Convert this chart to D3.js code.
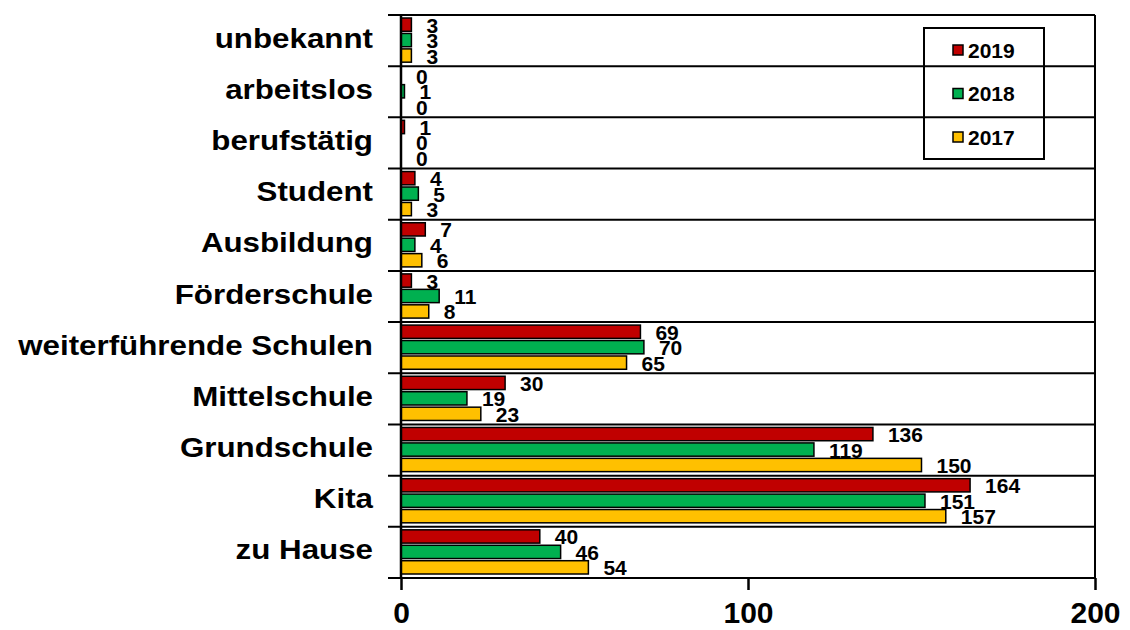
<!DOCTYPE html>
<html>
<head>
<meta charset="utf-8">
<script src="https://cdn.jsdelivr.net/npm/d3@7"></script>
<style>
  body { margin: 0; background: #fff; }
  svg text { font-family: "Liberation Sans", Arial, sans-serif; font-weight: bold; fill: #000; }
</style>
</head>
<body>
<script>
// categories top to bottom
var categories = ["unbekannt", "arbeitslos", "berufstätig", "Student", "Ausbildung", "Förderschule",
  "weiterführende Schulen", "Mittelschule", "Grundschule", "Kita", "zu Hause"];
var years = ["2019", "2018", "2017"];
var values2019 = [3, 0, 1, 4, 7, 3, 69, 30, 136, 164, 40];
var values2018 = [3, 1, 0, 5, 4, 11, 70, 19, 119, 151, 46];
var values2017 = [3, 0, 0, 3, 6, 8, 65, 23, 150, 157, 54];
var xTicks = [0, 100, 200];

var colors = { "2019": "#C00000", "2018": "#00B050", "2017": "#FFC000" };
var seriesValues = { "2019": values2019, "2018": values2018, "2017": values2017 };

var width = 1130, height = 630;
var plotLeft = 401, plotRight = 1095, plotTop = 15, plotBottom = 578;

var svg = d3.select("body").append("svg")
  .attr("width", width)
  .attr("height", height);

var x = d3.scaleLinear().domain([0, 200]).range([plotLeft, plotRight]);
var y = d3.scaleBand().domain(categories).range([plotTop, plotBottom]);
var bw = y.bandwidth();
var sub = d3.scaleBand().domain(years).range([3, bw - 4]).paddingInner(0.14);

// category separator lines (stick out a bit left of the axis)
var seps = categories.map(c => y(c)).concat([plotBottom]);
svg.append("g").selectAll("line")
  .data(seps)
  .enter().append("line")
  .attr("x1", plotLeft - 13).attr("x2", plotRight)
  .attr("y1", d => d).attr("y2", d => d)
  .attr("stroke", "#000").attr("stroke-width", 2);

// right border
svg.append("line")
  .attr("x1", plotRight).attr("x2", plotRight)
  .attr("y1", plotTop).attr("y2", plotBottom)
  .attr("stroke", "#000").attr("stroke-width", 2);

// bars
var rows = [];
categories.forEach((c, i) => {
  years.forEach(yr => rows.push({ cat: c, year: yr, value: seriesValues[yr][i] }));
});

svg.append("g").selectAll("rect")
  .data(rows.filter(d => d.value > 0))
  .enter().append("rect")
  .attr("x", x(0))
  .attr("y", d => y(d.cat) + sub(d.year))
  .attr("width", d => x(d.value) - x(0))
  .attr("height", sub.bandwidth())
  .attr("fill", d => colors[d.year])
  .attr("stroke", "#000")
  .attr("stroke-width", 1.5);

// value labels
svg.append("g").selectAll("text")
  .data(rows)
  .enter().append("text")
  .attr("x", d => x(d.value) + 15)
  .attr("y", d => y(d.cat) + sub(d.year) + sub.bandwidth() / 2 + 8)
  .attr("font-size", 21)
  .text(d => d.value);

// category labels (source font is a bit wider than Liberation Sans)
svg.append("g").selectAll("text")
  .data(categories)
  .enter().append("text")
  .attr("transform", d => "translate(373," + (y(d) + bw / 2 + 7) + ") scale(1.16,1)")
  .attr("text-anchor", "end")
  .attr("font-size", 27)
  .text(d => d);

// left axis line
svg.append("line")
  .attr("x1", plotLeft).attr("x2", plotLeft)
  .attr("y1", plotTop).attr("y2", plotBottom)
  .attr("stroke", "#000").attr("stroke-width", 2.5);

// bottom axis
var xAxis = svg.append("g")
  .attr("transform", "translate(0," + plotBottom + ")")
  .call(d3.axisBottom(x).tickValues(xTicks).tickSize(12).tickSizeOuter(0).tickPadding(12));
xAxis.select(".domain").remove();
xAxis.selectAll("line").attr("stroke", "#000").attr("stroke-width", 2.5);
xAxis.selectAll("text")
  .attr("font-size", 30)
  .attr("font-family", "Liberation Sans, Arial, sans-serif")
  .attr("font-weight", "bold");

// legend
var legend = svg.append("g").attr("transform", "translate(924,28)");
legend.append("rect")
  .attr("width", 120).attr("height", 131)
  .attr("fill", "none").attr("stroke", "#000").attr("stroke-width", 2);
var legendY = d3.scalePoint().domain(years).range([22, 109]);
var item = legend.selectAll(".item")
  .data(years)
  .enter().append("g")
  .attr("transform", d => "translate(0," + legendY(d) + ")");
item.append("rect")
  .attr("x", 29).attr("y", -5)
  .attr("width", 10).attr("height", 10)
  .attr("fill", d => colors[d])
  .attr("stroke", "#000").attr("stroke-width", 1.5);
item.append("text")
  .attr("x", 44).attr("y", 7.5)
  .attr("font-size", 21)
  .text(d => d);
</script>
</body>
</html>
